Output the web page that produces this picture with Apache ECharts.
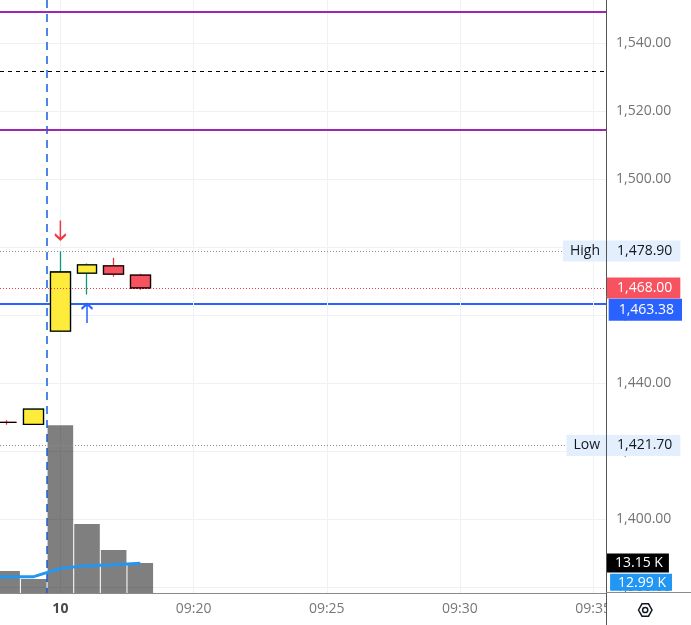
<!DOCTYPE html>
<html><head><meta charset="utf-8">
<script src="https://cdn.jsdelivr.net/npm/echarts@6/dist/echarts.min.js"></script>
<style>html,body{margin:0;padding:0;background:#fff}#c{width:691px;height:625px}</style>
</head><body><div id="c"></div>
<script>
// ---- data ----
const times  = ['09:12', '09:13', '09:14', '09:15', '09:16', '09:17', '09:18'];
const opens  = [null, 1428.5, 1427.9, 1455.3, 1472.4, 1474.5, 1471.8];
const closes = [null, 1428.5, 1432.4, 1472.7, 1474.8, 1472.1, 1468.0];
const lows   = [null, 1427.8, 1427.9, 1455.3, 1466.1, 1471.3, 1467.5];
const highs  = [null, 1429.1, 1432.4, 1478.9, 1475.2, 1476.9, 1472.2];
const volumesK  = [null, 9.64, 6.14, 73.6, 30.2, 18.85, 13.15];
const volumeMAK = [7.15, 7.15, 7.15, 10.8, 12.0, 12.4, 12.99];
const priceTicks = [1380, 1400, 1420, 1440, 1460, 1480, 1500, 1520, 1540];
const timeTickLabels = ['09:15', '09:20', '09:25', '09:30', '09:35'];
const dayMarkTime = '09:15', dayMarkLabel = '10';
const sessionBreakTime = '09:14:30';
const viewStartTime = '09:12:44', viewEndTime = '09:35:29';
const upperBand = 1549.2, lowerBand = 1514.5, midLevel = 1531.8;
const sessionHigh = 1478.9, sessionLow = 1421.7;
const lastPrice = 1463.38;
const downArrowAt = '09:15', upArrowAt = '09:16';

// ---- helpers ----
const FONT = 'Open Sans';
const toMin = t => { const p = t.split(':').map(Number); return p[1] + (p[2] || 0) / 60; };
const fromMin = m => '09:' + String(Math.round(m)).padStart(2, '0');
const fmt = v => v.toLocaleString('en-US', {minimumFractionDigits: 2, maximumFractionDigits: 2});
const fmtK = v => v.toFixed(2) + ' K';
const lastIdx = closes.length - 1;
const lastClose = closes[lastIdx];
const lastVol = volumesK[lastIdx];
const lastMA = volumeMAK[lastIdx];
const xs = times.map(toMin);
const xMin = toMin(viewStartTime), xMax = toMin(viewEndTime);

const wickData = [], bodyData = [], volData = [], maData = [];
times.forEach((t, i) => {
  maData.push([xs[i], volumeMAK[i]]);
  if (opens[i] == null) return;
  const o = opens[i], c = closes[i];
  const item = {value: [xs[i], o, c, lows[i], highs[i]]};
  if (o === c) item.itemStyle = {borderColor: '#f23645', borderColor0: '#f23645'};
  wickData.push(item);
  bodyData.push([xs[i], o, c, Math.min(o, c), Math.max(o, c)]);
  volData.push([xs[i], volumesK[i]]);
});

const hidden = {color: 'rgba(0,0,0,0)', width: 0};
const valLabel = (bg, fg, extra) => Object.assign({show: true, fontFamily: FONT, fontSize: 14, color: fg,
  backgroundColor: bg, padding: [4, 8, 3, 10]}, extra);

const downArrow = 'path://M5,0L5,19M0,14L5,19L10,14';
const upArrow = 'path://M5,19L5,0M0,5L5,0L10,5';

const chart = echarts.init(document.getElementById('c'), null, {renderer: 'canvas'});
chart.setOption({
  animation: false,
  backgroundColor: '#ffffff',
  grid: {left: 0, right: 85, top: 0, bottom: 32, containLabel: false},
  xAxis: [
    {type: 'value', min: xMin, max: xMax, position: 'bottom',
      axisLine: {show: true, onZero: false, lineStyle: {color: '#8a8a8a', width: 1}},
      axisTick: {show: false, customValues: timeTickLabels.map(toMin)},
      axisLabel: {show: true, customValues: timeTickLabels.map(toMin), margin: 9, color: '#777', fontFamily: FONT, fontSize: 14,
        formatter: v => fromMin(v) === dayMarkTime ? '{b|' + dayMarkLabel + '}' : fromMin(v),
        rich: {b: {fontWeight: 'bold', color: '#4a4a4a', fontFamily: FONT, fontSize: 14}}},
      splitLine: {show: true, lineStyle: {color: '#f0f1f4', width: 1}}},
    {type: 'value', min: xMin, max: xMax, position: 'top',
      axisLine: {show: false}, axisLabel: {show: false},
      axisTick: {show: false, customValues: [toMin(sessionBreakTime)]},
      splitLine: {show: true, lineStyle: {color: '#4c87e6', width: 2, type: [8, 6]}}}
  ],
  yAxis: [
    {type: 'value', position: 'right', min: 1378.3, max: 1552.7,
      axisLine: {show: true, lineStyle: {color: '#555', width: 1}},
      axisTick: {show: false, customValues: priceTicks},
      axisLabel: {show: true, customValues: priceTicks, margin: 10, color: '#737373', fontFamily: FONT, fontSize: 14,
        formatter: v => fmt(v)},
      splitLine: {show: true, lineStyle: {color: '#f0f1f4', width: 1}}},
    {type: 'value', min: 0, max: 260, show: false},
    {type: 'value', position: 'right', min: 1378.3, max: 1552.7,
      axisLine: {show: false}, axisLabel: {show: false},
      axisTick: {show: false, customValues: [lastPrice]},
      splitLine: {show: true, lineStyle: {color: '#2962ff', width: 2}}}
  ],
  series: [
    {name: 'Volume', type: 'bar', xAxisIndex: 0, yAxisIndex: 1, data: volData, barWidth: 25.6,
      itemStyle: {color: 'rgba(0,0,0,0.5)'}, z: 2,
      markLine: {silent: true, symbol: ['none', 'none'], animation: false,
        data: [{yAxis: lastVol, lineStyle: hidden,
          label: valLabel('#000000', '#ffffff', {position: 'end', distance: 1, padding: [3, 6, 2, 8], formatter: fmtK(lastVol)})}]}},
    {name: 'Volume MA', type: 'line', xAxisIndex: 0, yAxisIndex: 1, data: maData, showSymbol: false,
      lineStyle: {color: '#2196f3', width: 3}, z: 3,
      markLine: {silent: true, symbol: ['none', 'none'], animation: false,
        data: [{yAxis: lastMA, lineStyle: hidden,
          label: valLabel('#2196f3', '#ffffff', {position: 'insideEndBottom', distance: [-66, 10.5], padding: [2, 6, 1, 8], formatter: fmtK(lastMA)})}]}},
    {name: 'Wicks', type: 'candlestick', xAxisIndex: 0, yAxisIndex: 0, data: wickData, barWidth: 20, z: 3,
      itemStyle: {color: 'transparent', color0: 'transparent', borderColor: '#089981', borderColor0: '#f23645', borderWidth: 1.3},
      markPoint: {animation: false, label: {show: false},
        data: [
          {coord: [toMin(downArrowAt), highs[times.indexOf(downArrowAt)]], symbol: downArrow, symbolSize: [11, 19], symbolOffset: [0, -21],
            itemStyle: {color: 'transparent', borderColor: '#f23645', borderWidth: 2}},
          {coord: [toMin(upArrowAt), lows[times.indexOf(upArrowAt)]], symbol: upArrow, symbolSize: [11, 19], symbolOffset: [0, 19],
            itemStyle: {color: 'transparent', borderColor: '#2962ff', borderWidth: 2}}
        ]},
      markLine: {silent: true, symbol: ['none', 'none'], animation: false,
        data: [
          {yAxis: upperBand, lineStyle: {color: '#9c27b0', width: 2, type: 'solid'}, label: {show: false}},
          {yAxis: lowerBand, lineStyle: {color: '#9c27b0', width: 2, type: 'solid'}, label: {show: false}},
          {yAxis: midLevel, lineStyle: {color: '#000000', width: 1, type: [4, 4]}, label: {show: false}},
          {yAxis: sessionHigh, lineStyle: {color: '#8a8d96', width: 1, type: [1, 2]},
            label: valLabel('#e3effd', '#131722', {position: 'insideEnd', distance: 0, padding: [4, 6, 3, 7], formatter: 'High'})},
          {yAxis: sessionHigh, lineStyle: hidden,
            label: valLabel('#e3effd', '#131722', {position: 'end', distance: 1, formatter: fmt(sessionHigh)})},
          {yAxis: sessionLow, lineStyle: {color: '#8a8d96', width: 1, type: [1, 2]},
            label: valLabel('#e3effd', '#131722', {position: 'insideEnd', distance: 0, padding: [4, 6, 3, 7], formatter: 'Low'})},
          {yAxis: sessionLow, lineStyle: hidden,
            label: valLabel('#e3effd', '#131722', {position: 'end', distance: 1, formatter: fmt(sessionLow)})},
          {yAxis: lastClose, lineStyle: {color: '#f23645', width: 1, type: [1, 2]},
            label: valLabel('#f7525f', '#ffffff', {position: 'end', distance: 1, formatter: fmt(lastClose)})},
          {yAxis: lastPrice, lineStyle: hidden,
            label: valLabel('#2962ff', '#ffffff', {position: 'insideEndBottom', distance: [-76, -5], padding: [4, 8, 4, 10], formatter: fmt(lastPrice)})}
        ]}},
    {name: 'Bodies', type: 'candlestick', xAxisIndex: 0, yAxisIndex: 0, data: bodyData, barWidth: 20, z: 4,
      itemStyle: {color: '#ffeb3b', color0: '#f7525f', borderColor: '#000000', borderColor0: '#000000', borderWidth: 1.3}}
  ],
  graphic: [
    {type: 'rect', z: 50, shape: {x: 607, y: 594, width: 84, height: 31}, style: {fill: '#ffffff'}},
    {type: 'line', z: 51, shape: {x1: 606.5, y1: 593, x2: 606.5, y2: 625}, style: {stroke: '#555', lineWidth: 1}},
    {type: 'line', z: 51, shape: {x1: 606, y1: 592.5, x2: 691, y2: 592.5}, style: {stroke: '#8a8a8a', lineWidth: 1}},
    {type: 'polygon', z: 52, shape: {points: [[638.5, 610], [642, 603.8], [648.5, 603.8], [652, 610], [648.5, 616.2], [642, 616.2]]},
      style: {fill: 'none', stroke: '#131722', lineWidth: 1.5}},
    {type: 'circle', z: 52, shape: {cx: 645.2, cy: 610, r: 2.6}, style: {fill: 'none', stroke: '#131722', lineWidth: 1.5}}
  ]
});
</script>
</body></html>
